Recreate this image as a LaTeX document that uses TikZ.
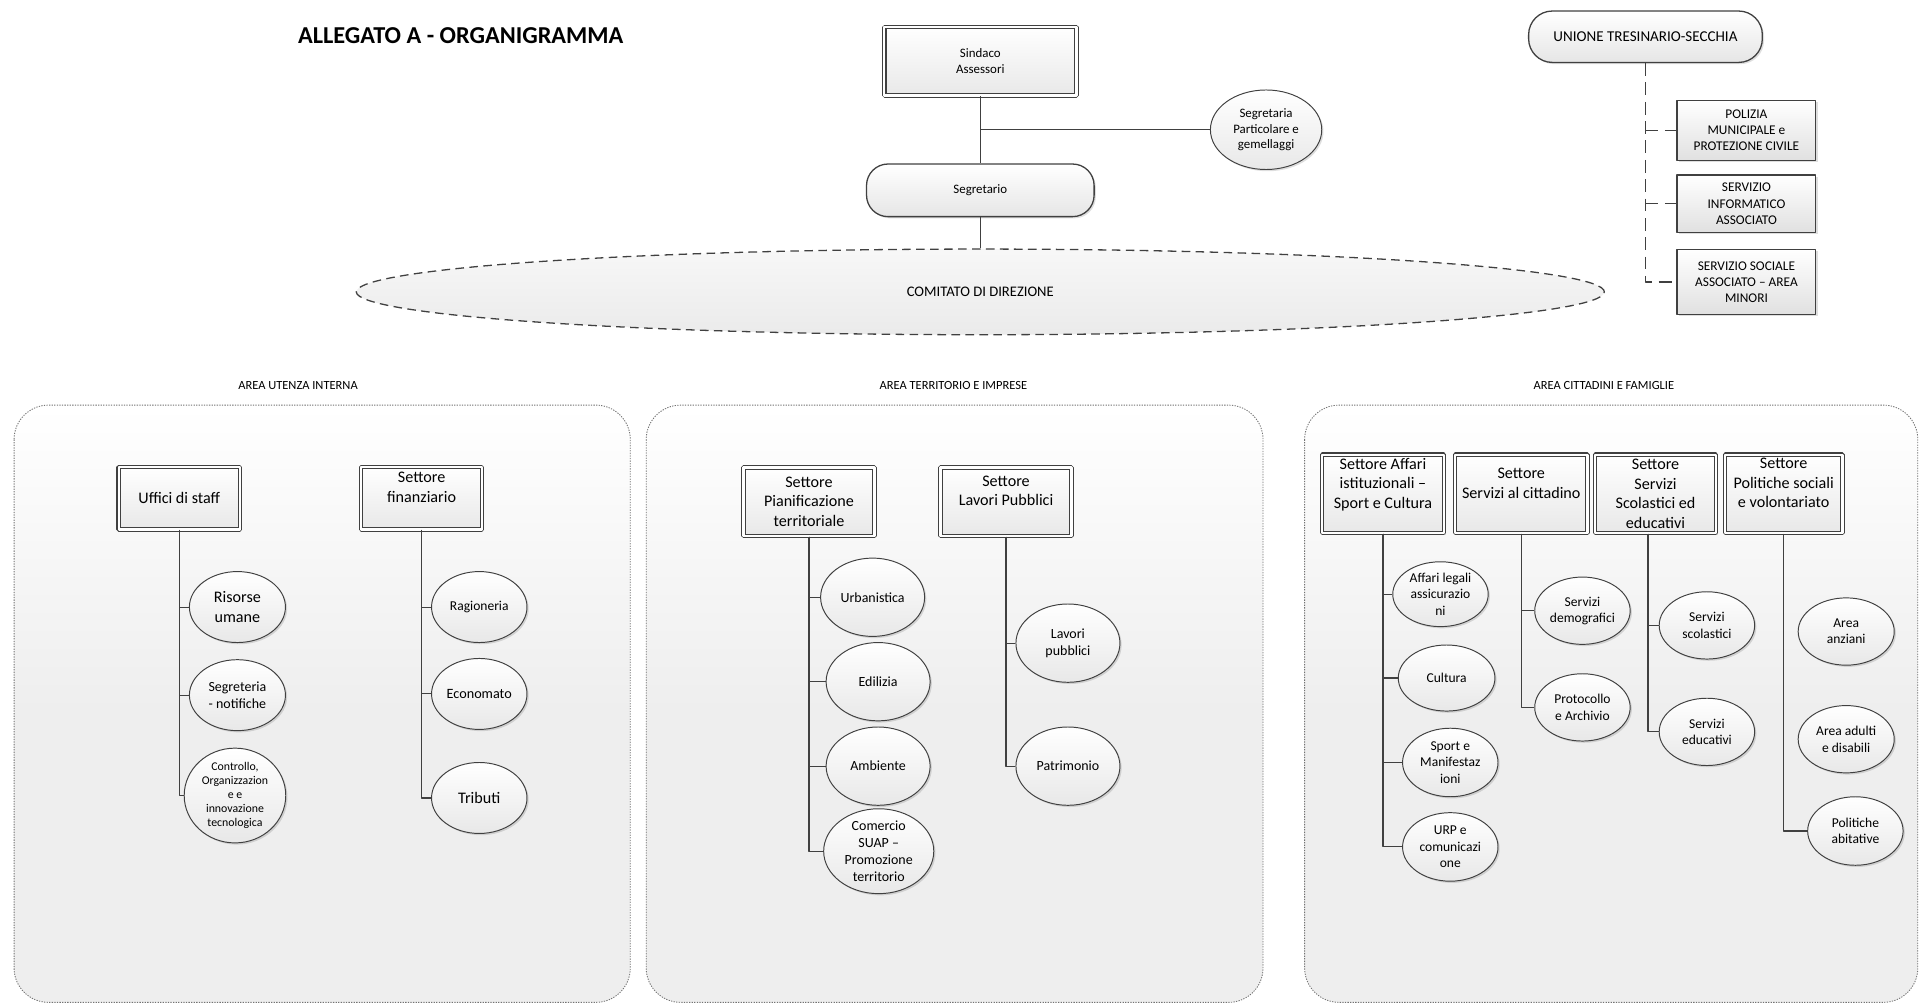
\documentclass[tikz,border=0pt]{standalone}
\usepackage{fontspec}
\setmainfont{Carlito}
\usetikzlibrary{shapes,shadows}

\definecolor{strokecol}{rgb}{0.25,0.25,0.25}
\definecolor{areacol}{rgb}{0.935,0.935,0.935}

\begin{document}
\begin{tikzpicture}[x=0.02cm,y=-0.02cm,line join=bevel,
  every node/.style={align=center,inner sep=0pt},
  link/.style={draw=strokecol,line width=0.5pt},
  unionlink/.style={draw=strokecol,line width=0.6pt,dash pattern=on 6pt off 3pt},
  shadowed/.style={drop shadow={shadow xshift=0.8pt,shadow yshift=-0.8pt,fill=black,opacity=0.13}},
  settore/.style={rectangle,draw=strokecol,line width=0.5pt,double=white,double distance=1.1pt,
    top color=white,bottom color=black!9,shadowed,font=\fontsize{7.5}{9}\selectfont},
  textup/.style={text depth=10pt},
  ufficio/.style={ellipse,draw=strokecol,line width=0.45pt,top color=white,bottom color=black!9,
    shadowed,font=\fontsize{6.3}{7.6}\selectfont},
  unionebox/.style={rectangle,draw=strokecol,line width=0.5pt,top color=white,bottom color=black!12,
    shadowed,font=\fontsize{6.2}{7.6}\selectfont,minimum width=2.27cm},
  pill/.style={rectangle,rounded corners=10pt,draw=strokecol,line width=0.6pt,top color=white,
    bottom color=black!10,shadowed},
  area/.style={draw=black!55,line width=0.4pt,dash pattern=on 0.6pt off 0.6pt,rounded corners=16pt,
    top color=white,bottom color=areacol,middle color=areacol},
  arealabel/.style={font=\fontsize{5.8}{7}\selectfont},
]

\useasboundingbox (0,0) rectangle (1568,823);

% Title
\node (titolo) at (376.5,29) {\bfseries\fontsize{11.3}{13}\selectfont ALLEGATO A - ORGANIGRAMMA};

% Node: sindaco
\node[settore,minimum width=3.14cm,minimum height=1.12cm,font=\fontsize{6}{7.6}\selectfont]
  (sindaco) at (801,50) {Sindaco\\Assessori};

% Node: segretaria
\node[ufficio,minimum width=1.82cm,minimum height=1.3cm,font=\fontsize{6}{7.4}\selectfont]
  (segretaria) at (1034.5,106) {Segretaria\\Particolare e\\gemellaggi};

% Node: segretario
\node[pill,minimum width=3.72cm,minimum height=0.86cm,font=\fontsize{6}{7.4}\selectfont]
  (segretario) at (801,155.5) {Segretario};

% Node: comitato
\node[ellipse,draw=strokecol,line width=0.6pt,dash pattern=on 4pt off 2.5pt,top color=black!3,
  bottom color=black!8,minimum width=20.4cm,minimum height=1.4cm,font=\fontsize{6.8}{8}\selectfont]
  (comitato) at (801,238.5) {COMITATO DI DIREZIONE};

% Node: unione
\node[pill,rounded corners=11pt,minimum width=3.82cm,minimum height=0.84cm,font=\fontsize{7}{8.4}\selectfont]
  (unione) at (1344.5,30) {UNIONE TRESINARIO-SECCHIA};

% Nodes: servizi associati
\node[unionebox,minimum height=0.98cm] (polizia) at (1427,106.5) {POLIZIA\\MUNICIPALE e\\PROTEZIONE CIVILE};
\node[unionebox,minimum height=0.94cm] (informatico) at (1427,166.5) {SERVIZIO\\INFORMATICO\\ASSOCIATO};
\node[unionebox,minimum height=1.06cm] (sociale) at (1427,230.5) {SERVIZIO SOCIALE\\ASSOCIATO – AREA\\MINORI};

% Edge: sindaco -> segretario
\draw[link] (sindaco.south) -- (segretario.north);
% Edge: sindaco -> segretaria
\draw[link] (sindaco.south |- segretaria.west) -- (segretaria.west);
% Edge: segretario -> comitato
\draw[link] (segretario.south) -- (comitato.north);

% Edge: unione -> polizia, informatico, sociale
\draw[unionlink] (unione.south) |- (sociale.west);
\draw[unionlink] (unione.south |- polizia.west) -- (polizia.west);
\draw[unionlink] (unione.south |- informatico.west) -- (informatico.west);

% Areas
\draw[area] (11.5,331) rectangle (515,819);
\draw[area] (528,331) rectangle (1032,819);
\draw[area] (1066,331) rectangle (1567,819);
\node[arealabel] (lab1) at (243.5,315) {AREA UTENZA INTERNA};
\node[arealabel] (lab2) at (779,315) {AREA TERRITORIO E IMPRESE};
\node[arealabel] (lab3) at (1310.5,315) {AREA CITTADINI E FAMIGLIE};

% Area utenza interna
\node[settore,minimum width=1.98cm,minimum height=1.02cm] (staff) at (146.5,407) {Uffici di staff};
\node[settore,textup,minimum width=1.98cm,minimum height=1.02cm] (finanz) at (344.5,407) {Settore\\finanziario};

\node[ufficio,minimum width=1.57cm,minimum height=1.16cm,font=\fontsize{7.5}{9}\selectfont] (risorse) at (194,496) {Risorse\\umane};
\node[ufficio,minimum width=1.57cm,minimum height=1.16cm,font=\fontsize{6.5}{7.8}\selectfont] (segreteria) at (194,568) {Segreteria\\- notifiche};
\node[ufficio,minimum width=1.66cm,minimum height=1.1cm,font=\fontsize{5.5}{6.6}\selectfont] (controllo) at (192,650) {Controllo,\\Organizzazion\\e e\\innovazione\\tecnologica};
\node[ufficio,minimum width=1.56cm,minimum height=1.16cm] (ragioneria) at (391.6,496) {Ragioneria};
\node[ufficio,minimum width=1.56cm,minimum height=1.16cm,font=\fontsize{6.6}{7.8}\selectfont] (economato) at (391.6,567) {Economato};
\node[ufficio,minimum width=1.56cm,minimum height=1.16cm,font=\fontsize{7.5}{9}\selectfont] (tributi) at (391.6,652) {Tributi};

% Edge: staff -> risorse, segreteria, controllo
\draw[link] (staff.south) |- (risorse.west);
\draw[link] (staff.south) |- (segreteria.west);
\draw[link] (staff.south) |- (controllo.west);
% Edge: finanz -> ragioneria, economato, tributi
\draw[link] (finanz.south) |- (ragioneria.west);
\draw[link] (finanz.south) |- (economato.west);
\draw[link] (finanz.south) |- (tributi.west);

% Area territorio e imprese
\node[settore,minimum width=2.14cm,minimum height=1.12cm] (pianif) at (661,410) {Settore\\Pianificazione\\territoriale};
\node[settore,textup,minimum width=2.14cm,minimum height=1.12cm] (lavori) at (822,410) {Settore\\Lavori Pubblici};

\node[ufficio,minimum width=1.7cm,minimum height=1.28cm,font=\fontsize{6.5}{7.8}\selectfont] (urbanistica) at (713,488) {Urbanistica};
\node[ufficio,minimum width=1.7cm,minimum height=1.28cm,font=\fontsize{6.5}{7.8}\selectfont] (edilizia) at (717.5,557) {Edilizia};
\node[ufficio,minimum width=1.7cm,minimum height=1.28cm,font=\fontsize{6.5}{7.8}\selectfont] (ambiente) at (717.5,626) {Ambiente};
\node[ufficio,minimum width=1.8cm,minimum height=1.28cm,font=\fontsize{6.5}{7.8}\selectfont] (commercio) at (718,695.5) {Comercio\\SUAP –\\Promozione\\territorio};
\node[ufficio,minimum width=1.7cm,minimum height=1.28cm,font=\fontsize{6.5}{7.8}\selectfont] (lavpub) at (872.6,525.5) {Lavori\\pubblici};
\node[ufficio,minimum width=1.7cm,minimum height=1.28cm,font=\fontsize{6.5}{7.8}\selectfont] (patrimonio) at (872.6,626) {Patrimonio};

% Edge: pianif -> urbanistica, edilizia, ambiente, commercio
\draw[link] (pianif.south) |- (urbanistica.west);
\draw[link] (pianif.south) |- (edilizia.west);
\draw[link] (pianif.south) |- (ambiente.west);
\draw[link] (pianif.south) |- (commercio.west);
% Edge: lavori -> lavpub, patrimonio
\draw[link] (lavori.south) |- (lavpub.west);
\draw[link] (lavori.south) |- (patrimonio.west);

% Area cittadini e famiglie
\node[settore,textup,minimum width=2cm,minimum height=1.28cm] (affari) at (1130,403.5) {Settore Affari\\istituzionali –\\Sport e Cultura};
\node[settore,textup,minimum width=2.16cm,minimum height=1.28cm] (cittadino) at (1243,403.5) {Settore\\Servizi al cittadino};
\node[settore,minimum width=1.98cm,minimum height=1.28cm] (scolastici) at (1352.7,403.5) {Settore\\Servizi\\Scolastici ed\\educativi};
\node[settore,textup,minimum width=1.92cm,minimum height=1.28cm] (politiche) at (1457.4,403.5) {Settore\\Politiche sociali\\e volontariato};

\node[ufficio,minimum width=1.56cm,minimum height=1.06cm] (legali) at (1177,485.5) {Affari legali\\assicurazio\\ni};
\node[ufficio,minimum width=1.58cm,minimum height=1.08cm] (cultura) at (1182,554) {Cultura};
\node[ufficio,minimum width=1.56cm,minimum height=1.12cm] (sport) at (1185,623) {Sport e\\Manifestaz\\ioni};
\node[ufficio,minimum width=1.56cm,minimum height=1.12cm] (urp) at (1185,692) {URP e\\comunicazi\\one};
\node[ufficio,minimum width=1.56cm,minimum height=1.1cm] (demografici) at (1293,499) {Servizi\\demografici};
\node[ufficio,minimum width=1.56cm,minimum height=1.1cm] (protocollo) at (1293,578) {Protocollo\\e Archivio};
\node[ufficio,minimum width=1.56cm,minimum height=1.1cm] (scolserv) at (1394.7,511) {Servizi\\scolastici};
\node[ufficio,minimum width=1.56cm,minimum height=1.1cm] (educativi) at (1394.7,598) {Servizi\\educativi};
\node[ufficio,minimum width=1.57cm,minimum height=1.1cm] (anziani) at (1508.5,516) {Area\\anziani};
\node[ufficio,minimum width=1.57cm,minimum height=1.1cm] (adulti) at (1508.5,604) {Area adulti\\e disabili};
\node[ufficio,minimum width=1.56cm,minimum height=1.12cm] (abitative) at (1516,679) {Politiche\\abitative};

% Edge: affari -> legali, cultura, sport, urp
\draw[link] (affari.south) |- (legali.west);
\draw[link] (affari.south) |- (cultura.west);
\draw[link] (affari.south) |- (sport.west);
\draw[link] (affari.south) |- (urp.west);
% Edge: cittadino -> demografici, protocollo
\draw[link] (cittadino.south) |- (demografici.west);
\draw[link] (cittadino.south) |- (protocollo.west);
% Edge: scolastici -> scolserv, educativi
\draw[link] ([xshift=-3.5pt]scolastici.south) |- (scolserv.west);
\draw[link] ([xshift=-3.5pt]scolastici.south) |- (educativi.west);
% Edge: politiche -> abitative
\draw[link] (politiche.south) |- (abitative.west);

\end{tikzpicture}
\end{document}
